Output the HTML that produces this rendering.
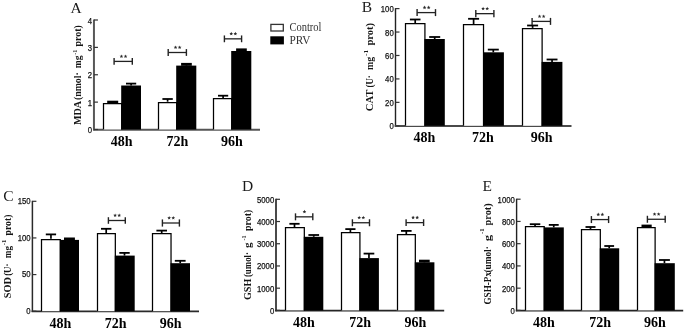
<!DOCTYPE html>
<html><head><meta charset="utf-8"><style>
html,body{margin:0;padding:0;background:#fff;}
body{width:685px;height:329px;overflow:hidden;}
svg{display:block;filter:grayscale(1);}
.tk{font-family:"Liberation Sans",sans-serif;font-size:9.1px;fill:#111;stroke:#111;stroke-width:0.25px;}
.xl{font-family:"Liberation Serif",serif;font-weight:bold;font-size:14px;fill:#000;}
.yl{font-family:"Liberation Serif",serif;font-weight:bold;fill:#151515;}
.pl{font-family:"Liberation Serif",serif;font-size:15.5px;fill:#1a1a1a;}
.st{font-family:"Liberation Serif",serif;font-size:8.6px;fill:#000;stroke:#000;stroke-width:0.25px;}
.lg{font-family:"Liberation Serif",serif;font-size:11.6px;fill:#333;}
</style></head><body>
<svg width="685" height="329" viewBox="0 0 685 329">
<rect width="685" height="329" fill="#fff"/>
<line x1="93.95" y1="19.5" x2="93.95" y2="130.3" stroke="#585858" stroke-width="2.0"/>
<line x1="93.15" y1="129.7" x2="260" y2="129.7" stroke="#555" stroke-width="2.0"/>
<line x1="93.95" y1="129.5" x2="97.95" y2="129.5" stroke="#333" stroke-width="1.2"/>
<text x="92.15" y="133" class="tk" text-anchor="end" textLength="4.3" lengthAdjust="spacingAndGlyphs">0</text>
<line x1="93.95" y1="102.12" x2="97.95" y2="102.12" stroke="#333" stroke-width="1.2"/>
<text x="92.15" y="105.62" class="tk" text-anchor="end" textLength="4.3" lengthAdjust="spacingAndGlyphs">1</text>
<line x1="93.95" y1="74.75" x2="97.95" y2="74.75" stroke="#333" stroke-width="1.2"/>
<text x="92.15" y="78.25" class="tk" text-anchor="end" textLength="4.3" lengthAdjust="spacingAndGlyphs">2</text>
<line x1="93.95" y1="47.38" x2="97.95" y2="47.38" stroke="#333" stroke-width="1.2"/>
<text x="92.15" y="50.88" class="tk" text-anchor="end" textLength="4.3" lengthAdjust="spacingAndGlyphs">3</text>
<line x1="93.95" y1="20" x2="97.95" y2="20" stroke="#333" stroke-width="1.2"/>
<text x="92.15" y="23.5" class="tk" text-anchor="end" textLength="4.3" lengthAdjust="spacingAndGlyphs">4</text>
<rect x="103" y="103" width="18.2" height="26.5" fill="#fff"/>
<path d="M103.5 129.5V103.5H121.73V129.5" fill="none" stroke="#000" stroke-width="1.25"/>
<rect x="121.2" y="85.5" width="19.8" height="44" fill="#000"/>
<rect x="158.2" y="101.7" width="18" height="27.8" fill="#fff"/>
<path d="M158.5 129.5V102.5H176.72V129.5" fill="none" stroke="#000" stroke-width="1.25"/>
<rect x="176.2" y="65.6" width="20.1" height="63.9" fill="#000"/>
<rect x="213.2" y="98.4" width="18" height="31.1" fill="#fff"/>
<path d="M213.5 129.5V98.5H231.72V129.5" fill="none" stroke="#000" stroke-width="1.25"/>
<rect x="231.2" y="51" width="20.1" height="78.5" fill="#000"/>
<rect x="107.2" y="100.7" width="11" height="2.5" fill="#000"/>
<line x1="112.7" y1="101.6" x2="112.7" y2="103" stroke="#000" stroke-width="1.7"/>
<line x1="126" y1="83.6" x2="136.2" y2="83.6" stroke="#000" stroke-width="1.8"/>
<line x1="131.1" y1="83.6" x2="131.1" y2="85.5" stroke="#000" stroke-width="1.7"/>
<line x1="162.4" y1="99" x2="172.8" y2="99" stroke="#000" stroke-width="1.8"/>
<line x1="167.6" y1="99" x2="167.6" y2="101.7" stroke="#000" stroke-width="1.7"/>
<rect x="181.1" y="62.9" width="10.7" height="2.9" fill="#000"/>
<line x1="186.45" y1="63.8" x2="186.45" y2="65.6" stroke="#000" stroke-width="1.7"/>
<line x1="218" y1="95.7" x2="228.2" y2="95.7" stroke="#000" stroke-width="1.8"/>
<line x1="223.1" y1="95.7" x2="223.1" y2="98.4" stroke="#000" stroke-width="1.7"/>
<rect x="236.1" y="48.4" width="10.7" height="2.8" fill="#000"/>
<line x1="241.45" y1="49.3" x2="241.45" y2="51" stroke="#000" stroke-width="1.7"/>
<line x1="114.1" y1="61.4" x2="132.3" y2="61.4" stroke="#222" stroke-width="1.3"/>
<line x1="114.1" y1="58" x2="114.1" y2="64.8" stroke="#222" stroke-width="1.4"/>
<line x1="132.3" y1="58" x2="132.3" y2="64.8" stroke="#222" stroke-width="1.4"/>
<polygon points="121.45,54.4 121.97,55.64 123.3,55.75 122.28,56.62 122.6,57.93 121.45,57.23 120.3,57.93 120.62,56.62 119.6,55.75 120.93,55.64" fill="#2a2a2a"/>
<polygon points="125.55,54.4 126.07,55.64 127.4,55.75 126.38,56.62 126.7,57.93 125.55,57.23 124.4,57.93 124.72,56.62 123.7,55.75 125.03,55.64" fill="#2a2a2a"/>
<line x1="168.2" y1="52.5" x2="186.4" y2="52.5" stroke="#222" stroke-width="1.3"/>
<line x1="168.2" y1="49.1" x2="168.2" y2="55.9" stroke="#222" stroke-width="1.4"/>
<line x1="186.4" y1="49.1" x2="186.4" y2="55.9" stroke="#222" stroke-width="1.4"/>
<polygon points="175.55,45.5 176.07,46.74 177.4,46.85 176.38,47.72 176.7,49.03 175.55,48.33 174.4,49.03 174.72,47.72 173.7,46.85 175.03,46.74" fill="#2a2a2a"/>
<polygon points="179.65,45.5 180.17,46.74 181.5,46.85 180.48,47.72 180.8,49.03 179.65,48.33 178.5,49.03 178.82,47.72 177.8,46.85 179.13,46.74" fill="#2a2a2a"/>
<line x1="224.4" y1="38.84" x2="241.6" y2="38.84" stroke="#222" stroke-width="1.3"/>
<line x1="224.4" y1="35.44" x2="224.4" y2="42.24" stroke="#222" stroke-width="1.4"/>
<line x1="241.6" y1="35.44" x2="241.6" y2="42.24" stroke="#222" stroke-width="1.4"/>
<polygon points="231.25,31.84 231.77,33.08 233.1,33.19 232.08,34.06 232.4,35.37 231.25,34.67 230.1,35.37 230.42,34.06 229.4,33.19 230.73,33.08" fill="#2a2a2a"/>
<polygon points="235.35,31.84 235.87,33.08 237.2,33.19 236.18,34.06 236.5,35.37 235.35,34.67 234.2,35.37 234.52,34.06 233.5,33.19 234.83,33.08" fill="#2a2a2a"/>
<text x="121.7" y="146" class="xl" text-anchor="middle">48h</text>
<text x="177.4" y="146" class="xl" text-anchor="middle">72h</text>
<text x="231.8" y="146" class="xl" text-anchor="middle">96h</text>
<g transform="rotate(-90)"><text class="yl" x="-125.1" y="81.4" font-size="10" textLength="24.2" lengthAdjust="spacingAndGlyphs">MDA</text><text class="yl" x="-100.1" y="81.4" font-size="10" textLength="27.9" lengthAdjust="spacingAndGlyphs">(nmol·</text><text class="yl" x="-68.3" y="81.4" font-size="10" textLength="12.7" lengthAdjust="spacingAndGlyphs">mg</text><text class="yl" x="-54.8" y="77" font-size="7" textLength="5.2" lengthAdjust="spacingAndGlyphs">-1</text><text class="yl" x="-46.4" y="81.4" font-size="10" textLength="21.3" lengthAdjust="spacingAndGlyphs">prot)</text></g>
<text x="70.4" y="12.6" class="pl" text-anchor="start">A</text>
<line x1="395.5" y1="8.1" x2="395.5" y2="126.6" stroke="#222" stroke-width="1.4"/>
<line x1="394.7" y1="126" x2="571.5" y2="126" stroke="#4a4a4a" stroke-width="2.0"/>
<line x1="395.5" y1="125.8" x2="399.5" y2="125.8" stroke="#333" stroke-width="1.2"/>
<text x="393.7" y="129.3" class="tk" text-anchor="end" textLength="4.3" lengthAdjust="spacingAndGlyphs">0</text>
<line x1="395.5" y1="102.36" x2="399.5" y2="102.36" stroke="#333" stroke-width="1.2"/>
<text x="393.7" y="105.86" class="tk" text-anchor="end" textLength="8.61" lengthAdjust="spacingAndGlyphs">20</text>
<line x1="395.5" y1="78.92" x2="399.5" y2="78.92" stroke="#333" stroke-width="1.2"/>
<text x="393.7" y="82.42" class="tk" text-anchor="end" textLength="8.61" lengthAdjust="spacingAndGlyphs">40</text>
<line x1="395.5" y1="55.48" x2="399.5" y2="55.48" stroke="#333" stroke-width="1.2"/>
<text x="393.7" y="58.98" class="tk" text-anchor="end" textLength="8.61" lengthAdjust="spacingAndGlyphs">60</text>
<line x1="395.5" y1="32.04" x2="399.5" y2="32.04" stroke="#333" stroke-width="1.2"/>
<text x="393.7" y="35.54" class="tk" text-anchor="end" textLength="8.61" lengthAdjust="spacingAndGlyphs">80</text>
<line x1="395.5" y1="8.6" x2="399.5" y2="8.6" stroke="#333" stroke-width="1.2"/>
<text x="393.7" y="12.1" class="tk" text-anchor="end" textLength="12.91" lengthAdjust="spacingAndGlyphs">100</text>
<rect x="405" y="23.1" width="19.4" height="102.7" fill="#fff"/>
<path d="M405.5 125.8V23.5H424.92V125.8" fill="none" stroke="#000" stroke-width="1.25"/>
<rect x="424.4" y="39" width="20.4" height="86.8" fill="#000"/>
<rect x="463.2" y="24.1" width="19.8" height="101.7" fill="#fff"/>
<path d="M463.5 125.8V24.5H483.52V125.8" fill="none" stroke="#000" stroke-width="1.25"/>
<rect x="483" y="52.3" width="20.9" height="73.5" fill="#000"/>
<rect x="522.2" y="27.9" width="19.4" height="97.9" fill="#fff"/>
<path d="M522.5 125.8V28.5H542.12V125.8" fill="none" stroke="#000" stroke-width="1.25"/>
<rect x="541.6" y="61.9" width="20.8" height="63.9" fill="#000"/>
<line x1="409.9" y1="19.5" x2="420.5" y2="19.5" stroke="#000" stroke-width="1.8"/>
<line x1="415.2" y1="19.5" x2="415.2" y2="23.1" stroke="#000" stroke-width="1.7"/>
<line x1="429.2" y1="37" x2="440.2" y2="37" stroke="#000" stroke-width="1.8"/>
<line x1="434.7" y1="37" x2="434.7" y2="39" stroke="#000" stroke-width="1.7"/>
<line x1="468.1" y1="18.8" x2="479.1" y2="18.8" stroke="#000" stroke-width="1.8"/>
<line x1="473.6" y1="18.8" x2="473.6" y2="24.1" stroke="#000" stroke-width="1.7"/>
<line x1="487.8" y1="49.6" x2="498.8" y2="49.6" stroke="#000" stroke-width="1.8"/>
<line x1="493.3" y1="49.6" x2="493.3" y2="52.3" stroke="#000" stroke-width="1.7"/>
<line x1="527.1" y1="25.5" x2="538.1" y2="25.5" stroke="#000" stroke-width="1.8"/>
<line x1="532.6" y1="25.5" x2="532.6" y2="27.9" stroke="#000" stroke-width="1.7"/>
<line x1="546.6" y1="59.5" x2="557.5" y2="59.5" stroke="#000" stroke-width="1.8"/>
<line x1="552.05" y1="59.5" x2="552.05" y2="61.9" stroke="#000" stroke-width="1.7"/>
<line x1="417.1" y1="12.6" x2="435.5" y2="12.6" stroke="#222" stroke-width="1.3"/>
<line x1="417.1" y1="9.1" x2="417.1" y2="16.1" stroke="#222" stroke-width="1.4"/>
<line x1="435.5" y1="9.1" x2="435.5" y2="16.1" stroke="#222" stroke-width="1.4"/>
<polygon points="424.55,5.6 425.07,6.84 426.4,6.95 425.38,7.82 425.7,9.13 424.55,8.43 423.4,9.13 423.72,7.82 422.7,6.95 424.03,6.84" fill="#2a2a2a"/>
<polygon points="428.65,5.6 429.17,6.84 430.5,6.95 429.48,7.82 429.8,9.13 428.65,8.43 427.5,9.13 427.82,7.82 426.8,6.95 428.13,6.84" fill="#2a2a2a"/>
<line x1="475.8" y1="13.66" x2="493.9" y2="13.66" stroke="#222" stroke-width="1.3"/>
<line x1="475.8" y1="10.06" x2="475.8" y2="17.26" stroke="#222" stroke-width="1.4"/>
<line x1="493.9" y1="10.06" x2="493.9" y2="17.26" stroke="#222" stroke-width="1.4"/>
<polygon points="483.1,6.66 483.62,7.9 484.95,8.01 483.93,8.88 484.25,10.19 483.1,9.49 481.95,10.19 482.27,8.88 481.25,8.01 482.58,7.9" fill="#2a2a2a"/>
<polygon points="487.2,6.66 487.72,7.9 489.05,8.01 488.03,8.88 488.35,10.19 487.2,9.49 486.05,10.19 486.37,8.88 485.35,8.01 486.68,7.9" fill="#2a2a2a"/>
<line x1="532.1" y1="21.4" x2="550.5" y2="21.4" stroke="#222" stroke-width="1.3"/>
<line x1="532.1" y1="17.9" x2="532.1" y2="24.9" stroke="#222" stroke-width="1.4"/>
<line x1="550.5" y1="17.9" x2="550.5" y2="24.9" stroke="#222" stroke-width="1.4"/>
<polygon points="539.55,14.4 540.07,15.64 541.4,15.75 540.38,16.62 540.7,17.93 539.55,17.23 538.4,17.93 538.72,16.62 537.7,15.75 539.03,15.64" fill="#2a2a2a"/>
<polygon points="543.65,14.4 544.17,15.64 545.5,15.75 544.48,16.62 544.8,17.93 543.65,17.23 542.5,17.93 542.82,16.62 541.8,15.75 543.13,15.64" fill="#2a2a2a"/>
<text x="424.4" y="141.8" class="xl" text-anchor="middle">48h</text>
<text x="482.9" y="141.8" class="xl" text-anchor="middle">72h</text>
<text x="541.7" y="141.8" class="xl" text-anchor="middle">96h</text>
<g transform="rotate(-90)"><text class="yl" x="-111.3" y="373.1" font-size="10" textLength="21.7" lengthAdjust="spacingAndGlyphs">CAT</text><text class="yl" x="-87.5" y="373.1" font-size="10" textLength="12.3" lengthAdjust="spacingAndGlyphs">(U·</text><text class="yl" x="-69.9" y="373.1" font-size="10" textLength="13.2" lengthAdjust="spacingAndGlyphs">mg</text><text class="yl" x="-55.9" y="367.8" font-size="7" textLength="6.1" lengthAdjust="spacingAndGlyphs">-1</text><text class="yl" x="-45.5" y="373.1" font-size="10" textLength="22.6" lengthAdjust="spacingAndGlyphs">prot)</text></g>
<text x="361.8" y="12" class="pl" text-anchor="start">B</text>
<line x1="32.4" y1="200.8" x2="32.4" y2="312" stroke="#2a2a2a" stroke-width="1.5"/>
<line x1="31.6" y1="311.4" x2="199" y2="311.4" stroke="#2a2a2a" stroke-width="1.6"/>
<line x1="32.4" y1="311.2" x2="36.4" y2="311.2" stroke="#333" stroke-width="1.2"/>
<text x="30.6" y="314" class="tk" text-anchor="end" textLength="4.3" lengthAdjust="spacingAndGlyphs">0</text>
<line x1="32.4" y1="274.57" x2="36.4" y2="274.57" stroke="#333" stroke-width="1.2"/>
<text x="30.6" y="277.37" class="tk" text-anchor="end" textLength="8.61" lengthAdjust="spacingAndGlyphs">50</text>
<line x1="32.4" y1="237.93" x2="36.4" y2="237.93" stroke="#333" stroke-width="1.2"/>
<text x="30.6" y="240.73" class="tk" text-anchor="end" textLength="12.91" lengthAdjust="spacingAndGlyphs">100</text>
<line x1="32.4" y1="201.3" x2="36.4" y2="201.3" stroke="#333" stroke-width="1.2"/>
<text x="30.6" y="204.1" class="tk" text-anchor="end" textLength="12.91" lengthAdjust="spacingAndGlyphs">150</text>
<rect x="41.5" y="238.7" width="18.3" height="72.5" fill="#fff"/>
<path d="M41.5 311.2V239.5H60.32V311.2" fill="none" stroke="#000" stroke-width="1.25"/>
<rect x="59.8" y="239.9" width="19.2" height="71.3" fill="#000"/>
<rect x="96.8" y="233.4" width="18" height="77.8" fill="#fff"/>
<path d="M97.5 311.2V233.5H115.33V311.2" fill="none" stroke="#000" stroke-width="1.25"/>
<rect x="114.8" y="255.6" width="19.9" height="55.6" fill="#000"/>
<rect x="152.2" y="233.4" width="18.3" height="77.8" fill="#fff"/>
<path d="M152.5 311.2V233.5H171.03V311.2" fill="none" stroke="#000" stroke-width="1.25"/>
<rect x="170.5" y="263.2" width="19.5" height="48" fill="#000"/>
<line x1="45.8" y1="234.4" x2="56.1" y2="234.4" stroke="#000" stroke-width="1.8"/>
<line x1="50.95" y1="234.4" x2="50.95" y2="238.7" stroke="#000" stroke-width="1.7"/>
<rect x="64" y="237.5" width="10.9" height="2.6" fill="#000"/>
<line x1="69.45" y1="238.4" x2="69.45" y2="239.9" stroke="#000" stroke-width="1.7"/>
<line x1="101" y1="228.8" x2="111.4" y2="228.8" stroke="#000" stroke-width="1.8"/>
<line x1="106.2" y1="228.8" x2="106.2" y2="233.4" stroke="#000" stroke-width="1.7"/>
<line x1="119.3" y1="252.9" x2="129.7" y2="252.9" stroke="#000" stroke-width="1.8"/>
<line x1="124.5" y1="252.9" x2="124.5" y2="255.6" stroke="#000" stroke-width="1.7"/>
<line x1="156.4" y1="230.6" x2="167" y2="230.6" stroke="#000" stroke-width="1.8"/>
<line x1="161.7" y1="230.6" x2="161.7" y2="233.4" stroke="#000" stroke-width="1.7"/>
<line x1="174.8" y1="260.8" x2="185.6" y2="260.8" stroke="#000" stroke-width="1.8"/>
<line x1="180.2" y1="260.8" x2="180.2" y2="263.2" stroke="#000" stroke-width="1.7"/>
<line x1="108.4" y1="220.5" x2="125.3" y2="220.5" stroke="#222" stroke-width="1.3"/>
<line x1="108.4" y1="217.2" x2="108.4" y2="223.8" stroke="#222" stroke-width="1.4"/>
<line x1="125.3" y1="217.2" x2="125.3" y2="223.8" stroke="#222" stroke-width="1.4"/>
<polygon points="115.1,213.5 115.62,214.74 116.95,214.85 115.93,215.72 116.25,217.03 115.1,216.33 113.95,217.03 114.27,215.72 113.25,214.85 114.58,214.74" fill="#2a2a2a"/>
<polygon points="119.2,213.5 119.72,214.74 121.05,214.85 120.03,215.72 120.35,217.03 119.2,216.33 118.05,217.03 118.37,215.72 117.35,214.85 118.68,214.74" fill="#2a2a2a"/>
<line x1="162.4" y1="223" x2="179.4" y2="223" stroke="#222" stroke-width="1.3"/>
<line x1="162.4" y1="219.4" x2="162.4" y2="226.6" stroke="#222" stroke-width="1.4"/>
<line x1="179.4" y1="219.4" x2="179.4" y2="226.6" stroke="#222" stroke-width="1.4"/>
<polygon points="169.15,216 169.67,217.24 171,217.35 169.98,218.22 170.3,219.53 169.15,218.83 168,219.53 168.32,218.22 167.3,217.35 168.63,217.24" fill="#2a2a2a"/>
<polygon points="173.25,216 173.77,217.24 175.1,217.35 174.08,218.22 174.4,219.53 173.25,218.83 172.1,219.53 172.42,218.22 171.4,217.35 172.73,217.24" fill="#2a2a2a"/>
<text x="60.3" y="327.7" class="xl" text-anchor="middle">48h</text>
<text x="115.6" y="327.7" class="xl" text-anchor="middle">72h</text>
<text x="170.6" y="327.7" class="xl" text-anchor="middle">96h</text>
<g transform="rotate(-90)"><text class="yl" x="-298.2" y="11.4" font-size="10" textLength="21.2" lengthAdjust="spacingAndGlyphs">SOD</text><text class="yl" x="-275.8" y="11.4" font-size="10" textLength="12.1" lengthAdjust="spacingAndGlyphs">(U·</text><text class="yl" x="-258.3" y="11.4" font-size="10" textLength="12.3" lengthAdjust="spacingAndGlyphs">mg</text><text class="yl" x="-245.2" y="6.3" font-size="7" textLength="5.4" lengthAdjust="spacingAndGlyphs">-1</text><text class="yl" x="-235.4" y="11.4" font-size="10" textLength="20.8" lengthAdjust="spacingAndGlyphs">prot)</text></g>
<text x="3.2" y="201.2" class="pl" text-anchor="start">C</text>
<line x1="276" y1="198.8" x2="276" y2="311.2" stroke="#4a4a4a" stroke-width="2.0"/>
<line x1="275.2" y1="310.6" x2="444.2" y2="310.6" stroke="#252525" stroke-width="1.6"/>
<line x1="276" y1="310.4" x2="280" y2="310.4" stroke="#333" stroke-width="1.2"/>
<text x="274.2" y="313.9" class="tk" text-anchor="end" textLength="4.3" lengthAdjust="spacingAndGlyphs">0</text>
<line x1="276" y1="288.18" x2="280" y2="288.18" stroke="#333" stroke-width="1.2"/>
<text x="274.2" y="291.68" class="tk" text-anchor="end" textLength="17.21" lengthAdjust="spacingAndGlyphs">1000</text>
<line x1="276" y1="265.96" x2="280" y2="265.96" stroke="#333" stroke-width="1.2"/>
<text x="274.2" y="269.46" class="tk" text-anchor="end" textLength="17.21" lengthAdjust="spacingAndGlyphs">2000</text>
<line x1="276" y1="243.74" x2="280" y2="243.74" stroke="#333" stroke-width="1.2"/>
<text x="274.2" y="247.24" class="tk" text-anchor="end" textLength="17.21" lengthAdjust="spacingAndGlyphs">3000</text>
<line x1="276" y1="221.52" x2="280" y2="221.52" stroke="#333" stroke-width="1.2"/>
<text x="274.2" y="225.02" class="tk" text-anchor="end" textLength="17.21" lengthAdjust="spacingAndGlyphs">4000</text>
<line x1="276" y1="199.3" x2="280" y2="199.3" stroke="#333" stroke-width="1.2"/>
<text x="274.2" y="202.8" class="tk" text-anchor="end" textLength="17.21" lengthAdjust="spacingAndGlyphs">5000</text>
<rect x="285.3" y="227.3" width="18.5" height="83.1" fill="#fff"/>
<path d="M285.5 310.4V227.5H304.32V310.4" fill="none" stroke="#000" stroke-width="1.25"/>
<rect x="303.8" y="236.8" width="19.5" height="73.6" fill="#000"/>
<rect x="341.1" y="232.3" width="18.3" height="78.1" fill="#fff"/>
<path d="M341.5 310.4V232.5H359.92V310.4" fill="none" stroke="#000" stroke-width="1.25"/>
<rect x="359.4" y="258.1" width="19.5" height="52.3" fill="#000"/>
<rect x="396.7" y="234" width="18.1" height="76.4" fill="#fff"/>
<path d="M397.5 310.4V234.5H415.32V310.4" fill="none" stroke="#000" stroke-width="1.25"/>
<rect x="414.8" y="262.3" width="19.6" height="48.1" fill="#000"/>
<line x1="289.4" y1="223.8" x2="299.6" y2="223.8" stroke="#000" stroke-width="1.8"/>
<line x1="294.5" y1="223.8" x2="294.5" y2="227.3" stroke="#000" stroke-width="1.7"/>
<line x1="308.4" y1="235" x2="319.1" y2="235" stroke="#000" stroke-width="1.8"/>
<line x1="313.75" y1="235" x2="313.75" y2="236.8" stroke="#000" stroke-width="1.7"/>
<line x1="345.3" y1="229.1" x2="355.5" y2="229.1" stroke="#000" stroke-width="1.8"/>
<line x1="350.4" y1="229.1" x2="350.4" y2="232.3" stroke="#000" stroke-width="1.7"/>
<line x1="363.6" y1="253.6" x2="374.3" y2="253.6" stroke="#000" stroke-width="1.8"/>
<line x1="368.95" y1="253.6" x2="368.95" y2="258.1" stroke="#000" stroke-width="1.7"/>
<line x1="401" y1="230.9" x2="411.6" y2="230.9" stroke="#000" stroke-width="1.8"/>
<line x1="406.3" y1="230.9" x2="406.3" y2="234" stroke="#000" stroke-width="1.7"/>
<rect x="419" y="259.7" width="10.7" height="2.8" fill="#000"/>
<line x1="424.35" y1="260.6" x2="424.35" y2="262.3" stroke="#000" stroke-width="1.7"/>
<line x1="295.5" y1="216.84" x2="312.8" y2="216.84" stroke="#222" stroke-width="1.3"/>
<line x1="295.5" y1="213.34" x2="295.5" y2="220.34" stroke="#222" stroke-width="1.4"/>
<line x1="312.8" y1="213.34" x2="312.8" y2="220.34" stroke="#222" stroke-width="1.4"/>
<polygon points="304.45,209.84 304.97,211.08 306.3,211.19 305.28,212.06 305.6,213.37 304.45,212.67 303.3,213.37 303.62,212.06 302.6,211.19 303.93,211.08" fill="#2a2a2a"/>
<line x1="352.4" y1="222.75" x2="369.5" y2="222.75" stroke="#222" stroke-width="1.3"/>
<line x1="352.4" y1="219.25" x2="352.4" y2="226.25" stroke="#222" stroke-width="1.4"/>
<line x1="369.5" y1="219.25" x2="369.5" y2="226.25" stroke="#222" stroke-width="1.4"/>
<polygon points="359.2,215.75 359.72,216.99 361.05,217.1 360.03,217.97 360.35,219.28 359.2,218.58 358.05,219.28 358.37,217.97 357.35,217.1 358.68,216.99" fill="#2a2a2a"/>
<polygon points="363.3,215.75 363.82,216.99 365.15,217.1 364.13,217.97 364.45,219.28 363.3,218.58 362.15,219.28 362.47,217.97 361.45,217.1 362.78,216.99" fill="#2a2a2a"/>
<line x1="406.1" y1="222.63" x2="423.6" y2="222.63" stroke="#222" stroke-width="1.3"/>
<line x1="406.1" y1="219.23" x2="406.1" y2="226.03" stroke="#222" stroke-width="1.4"/>
<line x1="423.6" y1="219.23" x2="423.6" y2="226.03" stroke="#222" stroke-width="1.4"/>
<polygon points="413.1,215.63 413.62,216.87 414.95,216.98 413.93,217.85 414.25,219.16 413.1,218.46 411.95,219.16 412.27,217.85 411.25,216.98 412.58,216.87" fill="#2a2a2a"/>
<polygon points="417.2,215.63 417.72,216.87 419.05,216.98 418.03,217.85 418.35,219.16 417.2,218.46 416.05,219.16 416.37,217.85 415.35,216.98 416.68,216.87" fill="#2a2a2a"/>
<text x="304" y="326.8" class="xl" text-anchor="middle">48h</text>
<text x="360.1" y="326.8" class="xl" text-anchor="middle">72h</text>
<text x="415.3" y="326.8" class="xl" text-anchor="middle">96h</text>
<g transform="rotate(-90)"><text class="yl" x="-300.1" y="250.6" font-size="9.5" textLength="21.4" lengthAdjust="spacingAndGlyphs">GSH</text><text class="yl" x="-277.1" y="250.6" font-size="9.5" textLength="25.1" lengthAdjust="spacingAndGlyphs">(umol·</text><text class="yl" x="-247.9" y="250.6" font-size="9.5" textLength="5.5" lengthAdjust="spacingAndGlyphs">g</text><text class="yl" x="-240.4" y="246" font-size="7" textLength="4.9" lengthAdjust="spacingAndGlyphs">-1</text><text class="yl" x="-231" y="250.6" font-size="9.5" textLength="21.3" lengthAdjust="spacingAndGlyphs">prot)</text></g>
<text x="242" y="190.5" class="pl" text-anchor="start">D</text>
<line x1="516.6" y1="198.7" x2="516.6" y2="311.2" stroke="#222" stroke-width="1.4"/>
<line x1="515.8" y1="310.6" x2="683.2" y2="310.6" stroke="#252525" stroke-width="1.6"/>
<line x1="516.6" y1="310.4" x2="520.6" y2="310.4" stroke="#333" stroke-width="1.2"/>
<text x="514.8" y="313.9" class="tk" text-anchor="end" textLength="4.3" lengthAdjust="spacingAndGlyphs">0</text>
<line x1="516.6" y1="288.16" x2="520.6" y2="288.16" stroke="#333" stroke-width="1.2"/>
<text x="514.8" y="291.66" class="tk" text-anchor="end" textLength="12.91" lengthAdjust="spacingAndGlyphs">200</text>
<line x1="516.6" y1="265.92" x2="520.6" y2="265.92" stroke="#333" stroke-width="1.2"/>
<text x="514.8" y="269.42" class="tk" text-anchor="end" textLength="12.91" lengthAdjust="spacingAndGlyphs">400</text>
<line x1="516.6" y1="243.68" x2="520.6" y2="243.68" stroke="#333" stroke-width="1.2"/>
<text x="514.8" y="247.18" class="tk" text-anchor="end" textLength="12.91" lengthAdjust="spacingAndGlyphs">600</text>
<line x1="516.6" y1="221.44" x2="520.6" y2="221.44" stroke="#333" stroke-width="1.2"/>
<text x="514.8" y="224.94" class="tk" text-anchor="end" textLength="12.91" lengthAdjust="spacingAndGlyphs">800</text>
<line x1="516.6" y1="199.2" x2="520.6" y2="199.2" stroke="#333" stroke-width="1.2"/>
<text x="514.8" y="202.7" class="tk" text-anchor="end" textLength="17.21" lengthAdjust="spacingAndGlyphs">1000</text>
<rect x="525.5" y="226.2" width="18.2" height="84.2" fill="#fff"/>
<path d="M525.5 310.4V226.5H544.23V310.4" fill="none" stroke="#000" stroke-width="1.25"/>
<rect x="543.7" y="227.4" width="20.1" height="83" fill="#000"/>
<rect x="581.2" y="229.2" width="18.6" height="81.2" fill="#fff"/>
<path d="M581.5 310.4V229.5H600.32V310.4" fill="none" stroke="#000" stroke-width="1.25"/>
<rect x="599.8" y="248.3" width="19.4" height="62.1" fill="#000"/>
<rect x="637" y="227.2" width="17.6" height="83.2" fill="#fff"/>
<path d="M637.5 310.4V227.5H655.12V310.4" fill="none" stroke="#000" stroke-width="1.25"/>
<rect x="654.6" y="263.2" width="20.2" height="47.2" fill="#000"/>
<line x1="529.8" y1="224.2" x2="540.3" y2="224.2" stroke="#000" stroke-width="1.8"/>
<line x1="535.05" y1="224.2" x2="535.05" y2="226.2" stroke="#000" stroke-width="1.7"/>
<line x1="548.8" y1="224.9" x2="558.7" y2="224.9" stroke="#000" stroke-width="1.8"/>
<line x1="553.75" y1="224.9" x2="553.75" y2="227.4" stroke="#000" stroke-width="1.7"/>
<line x1="585.5" y1="227" x2="595.5" y2="227" stroke="#000" stroke-width="1.8"/>
<line x1="590.5" y1="227" x2="590.5" y2="229.2" stroke="#000" stroke-width="1.7"/>
<line x1="604.3" y1="246" x2="614.1" y2="246" stroke="#000" stroke-width="1.8"/>
<line x1="609.2" y1="246" x2="609.2" y2="248.3" stroke="#000" stroke-width="1.7"/>
<rect x="641.5" y="224.6" width="10.2" height="2.8" fill="#000"/>
<line x1="646.6" y1="225.5" x2="646.6" y2="227.2" stroke="#000" stroke-width="1.7"/>
<line x1="659" y1="260" x2="669.9" y2="260" stroke="#000" stroke-width="1.8"/>
<line x1="664.45" y1="260" x2="664.45" y2="263.2" stroke="#000" stroke-width="1.7"/>
<line x1="591.4" y1="219.57" x2="608.6" y2="219.57" stroke="#222" stroke-width="1.3"/>
<line x1="591.4" y1="216.07" x2="591.4" y2="223.07" stroke="#222" stroke-width="1.4"/>
<line x1="608.6" y1="216.07" x2="608.6" y2="223.07" stroke="#222" stroke-width="1.4"/>
<polygon points="598.25,212.57 598.77,213.81 600.1,213.92 599.08,214.79 599.4,216.1 598.25,215.4 597.1,216.1 597.42,214.79 596.4,213.92 597.73,213.81" fill="#2a2a2a"/>
<polygon points="602.35,212.57 602.87,213.81 604.2,213.92 603.18,214.79 603.5,216.1 602.35,215.4 601.2,216.1 601.52,214.79 600.5,213.92 601.83,213.81" fill="#2a2a2a"/>
<line x1="647.4" y1="219.27" x2="665.2" y2="219.27" stroke="#222" stroke-width="1.3"/>
<line x1="647.4" y1="215.77" x2="647.4" y2="222.77" stroke="#222" stroke-width="1.4"/>
<line x1="665.2" y1="215.77" x2="665.2" y2="222.77" stroke="#222" stroke-width="1.4"/>
<polygon points="654.55,212.27 655.07,213.51 656.4,213.62 655.38,214.49 655.7,215.8 654.55,215.1 653.4,215.8 653.72,214.49 652.7,213.62 654.03,213.51" fill="#2a2a2a"/>
<polygon points="658.65,212.27 659.17,213.51 660.5,213.62 659.48,214.49 659.8,215.8 658.65,215.1 657.5,215.8 657.82,214.49 656.8,213.62 658.13,213.51" fill="#2a2a2a"/>
<text x="543.9" y="326.8" class="xl" text-anchor="middle">48h</text>
<text x="600.1" y="326.8" class="xl" text-anchor="middle">72h</text>
<text x="655" y="326.8" class="xl" text-anchor="middle">96h</text>
<g transform="rotate(-90)"><text class="yl" x="-304.6" y="491.2" font-size="9.5" textLength="32.6" lengthAdjust="spacingAndGlyphs">GSH-Px</text><text class="yl" x="-272.6" y="491.2" font-size="9.5" textLength="26.4" lengthAdjust="spacingAndGlyphs">(umol·</text><text class="yl" x="-241.2" y="491.2" font-size="9.5" textLength="6.4" lengthAdjust="spacingAndGlyphs">g</text><text class="yl" x="-233.9" y="484" font-size="7" textLength="5.4" lengthAdjust="spacingAndGlyphs">-1</text><text class="yl" x="-225.4" y="491.2" font-size="9.5" textLength="22" lengthAdjust="spacingAndGlyphs">prot)</text></g>
<text x="482.4" y="190.5" class="pl" text-anchor="start">E</text>
<rect x="270.9" y="24.4" width="12.4" height="6.6" fill="#fff" stroke="#333" stroke-width="1.3"/>
<rect x="270.3" y="36.3" width="13.6" height="8.1" fill="#000"/>
<text x="289.5" y="30.7" class="lg" text-anchor="start" textLength="32" lengthAdjust="spacingAndGlyphs">Control</text>
<text x="289.5" y="43.6" class="lg" text-anchor="start" textLength="21" lengthAdjust="spacingAndGlyphs">PRV</text>
</svg>
</body></html>
